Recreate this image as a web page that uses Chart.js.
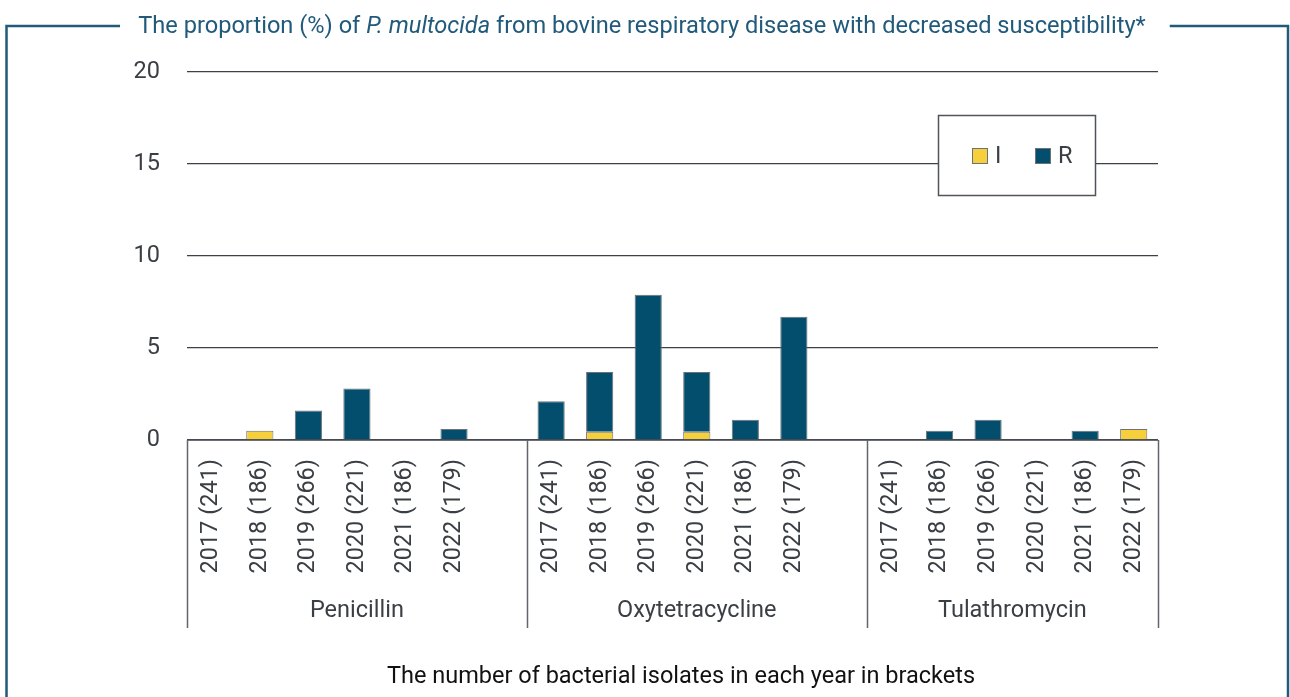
<!DOCTYPE html>
<html>
<head>
<meta charset="utf-8">
<script src="https://cdn.jsdelivr.net/npm/chart.js@4.4.1/dist/chart.umd.min.js"></script>
<style>
  html, body { margin: 0; padding: 0; background: #fff; }
  canvas { display: block; }
</style>
</head>
<body>
<canvas id="pmChart" width="1290" height="697"></canvas>
<script>
// data
const groups = ['Penicillin', 'Oxytetracycline', 'Tulathromycin'];
const yearLabels = ['2017 (241)', '2018 (186)', '2019 (266)', '2020 (221)', '2021 (186)', '2022 (179)'];
const yTicks = [0, 5, 10, 15, 20];

const penicillinI = [0, 0.5, 0, 0, 0, 0];
const penicillinR = [0, 0, 1.6, 2.8, 0, 0.6];
const oxytetracyclineI = [0, 0.45, 0, 0.45, 0, 0];
const oxytetracyclineR = [2.1, 3.25, 7.9, 3.25, 1.1, 6.7];
const tulathromycinI = [0, 0, 0, 0, 0, 0.6];
const tulathromycinR = [0, 0.5, 1.1, 0, 0.5, 0];

const titleText = 'The proportion (%) of ';
const titleItalic = 'P. multocida';
const titleRest = ' from bovine respiratory disease with decreased susceptibility*';
const xTitle = 'The number of bacterial isolates in each year in brackets';

const colI = '#f6d03c';
const colR = '#034e6d';
const frameCol = '#215a7b';
const textCol = '#3a3f45';
const FONT = 'Roboto';
const FS = 23.5;

// one blank slot after each group
function withGaps(a, b, c, blank) {
    return [...a, blank, ...b, blank, ...c];
}
const labels = withGaps(yearLabels, yearLabels, yearLabels, '');
const dataI = withGaps(penicillinI, oxytetracyclineI, tulathromycinI, null);
const dataR = withGaps(penicillinR, oxytetracyclineR, tulathromycinR, null);

// frame, title, legend box, group separators and labels
const decorPlugin = {
    id: 'decor',
    beforeDraw(chart) {
        const c = chart.ctx;
        c.save();
        c.fillStyle = '#fff';
        c.fillRect(0, 0, chart.width, chart.height);

        // title
        const tf = '23.6px ' + FONT;
        const tfi = 'italic 23.6px ' + FONT;
        c.font = tf;
        const w1 = c.measureText(titleText).width;
        const w3 = c.measureText(titleRest).width;
        c.font = tfi;
        const w2 = c.measureText(titleItalic).width;
        const total = w1 + w2 + w3;
        let x = 642 - total / 2;
        const ty = 33;
        c.fillStyle = frameCol;
        c.textBaseline = 'alphabetic';
        c.textAlign = 'left';
        c.font = tf;
        c.fillText(titleText, x, ty);
        c.font = tfi;
        c.fillText(titleItalic, x + w1, ty);
        c.font = tf;
        c.fillText(titleRest, x + w1 + w2, ty);

        // frame
        c.strokeStyle = frameCol;
        c.lineWidth = 2.5;
        c.beginPath();
        c.moveTo(120, 26);
        c.lineTo(6.5, 26);
        c.lineTo(6.5, chart.height + 5);
        c.moveTo(x + total + 24, 26);
        c.lineTo(1288, 26);
        c.lineTo(1288, chart.height + 5);
        c.stroke();
        c.restore();
    },
    afterDraw(chart) {
        const c = chart.ctx;
        const xs = chart.scales.x;
        const area = chart.chartArea;
        const step = xs.getPixelForTick(1) - xs.getPixelForTick(0);
        c.save();

        // axis line
        c.strokeStyle = '#4a4e54';
        c.lineWidth = 1.5;
        c.beginPath();
        c.moveTo(area.left, area.bottom);
        c.lineTo(area.right, area.bottom);
        c.stroke();

        // group separators
        const bounds = [area.left,
            xs.getPixelForTick(6) + step / 2,
            xs.getPixelForTick(13) + step / 2,
            area.right];
        c.strokeStyle = '#62666c';
        c.lineWidth = 1.5;
        c.beginPath();
        bounds.forEach(b => {
            c.moveTo(Math.round(b) + 0.5, area.bottom);
            c.lineTo(Math.round(b) + 0.5, 628);
        });
        c.stroke();

        // group labels
        c.fillStyle = textCol;
        c.font = FS + 'px ' + FONT;
        c.textAlign = 'center';
        c.textBaseline = 'middle';
        groups.forEach((g, i) => {
            c.fillText(g, (bounds[i] + bounds[i + 1]) / 2, 611);
        });

        // axis title
        c.fillStyle = '#111';
        c.fillText(xTitle, 681, 677);

        // legend box
        c.fillStyle = '#fff';
        c.fillRect(938, 115, 158, 81);
        c.strokeStyle = '#50545a';
        c.lineWidth = 1.5;
        c.strokeRect(938.5, 115.5, 157, 80);
        const items = chart.data.datasets;
        const lx = [972, 1035];
        c.textAlign = 'left';
        items.forEach((ds, i) => {
            c.fillStyle = ds.backgroundColor;
            c.fillRect(lx[i], 148, 16, 16);
            c.strokeStyle = '#6e7278';
            c.lineWidth = 1;
            c.strokeRect(lx[i] + 0.5, 148.5, 15, 15);
            c.fillStyle = textCol;
            c.font = FS + 'px ' + FONT;
            c.fillText(ds.label, lx[i] + 23, 157);
        });
        c.restore();
    }
};

const ctx = document.getElementById('pmChart').getContext('2d');
const pmChart = new Chart(ctx, {
    type: 'bar',
    data: {
        labels: labels,
        datasets: [{
            label: 'I',
            data: dataI,
            backgroundColor: colI,
            borderColor: '#6e7278',
            borderWidth: 1
        }, {
            label: 'R',
            data: dataR,
            backgroundColor: colR,
            borderColor: '#6e7278',
            borderWidth: 1
        }]
    },
    options: {
        responsive: false,
        animation: false,
        layout: {
            padding: { top: 72, right: 132, bottom: 0, left: 0 }
        },
        datasets: {
            bar: { barPercentage: 0.56, categoryPercentage: 1 }
        },
        plugins: {
            legend: { display: false },
            tooltip: { enabled: false }
        },
        scales: {
            x: {
                stacked: true,
                grid: { display: false, drawTicks: false },
                border: { display: false },
                ticks: {
                    autoSkip: false,
                    minRotation: 90,
                    maxRotation: 90,
                    padding: 19,
                    color: textCol,
                    font: { family: FONT, size: FS }
                },
                afterFit(scale) { scale.height = 257; }
            },
            y: {
                stacked: true,
                min: 0,
                max: 20,
                afterBuildTicks(scale) {
                    scale.ticks = yTicks.map(v => ({ value: v }));
                },
                grid: { color: '#3d4046', lineWidth: 1.2, drawTicks: false },
                border: { display: false },
                ticks: {
                    padding: 27,
                    color: textCol,
                    font: { family: FONT, size: FS }
                },
                afterFit(scale) { scale.width = 187; }
            }
        }
    },
    plugins: [decorPlugin]
});
</script>
</body>
</html>
